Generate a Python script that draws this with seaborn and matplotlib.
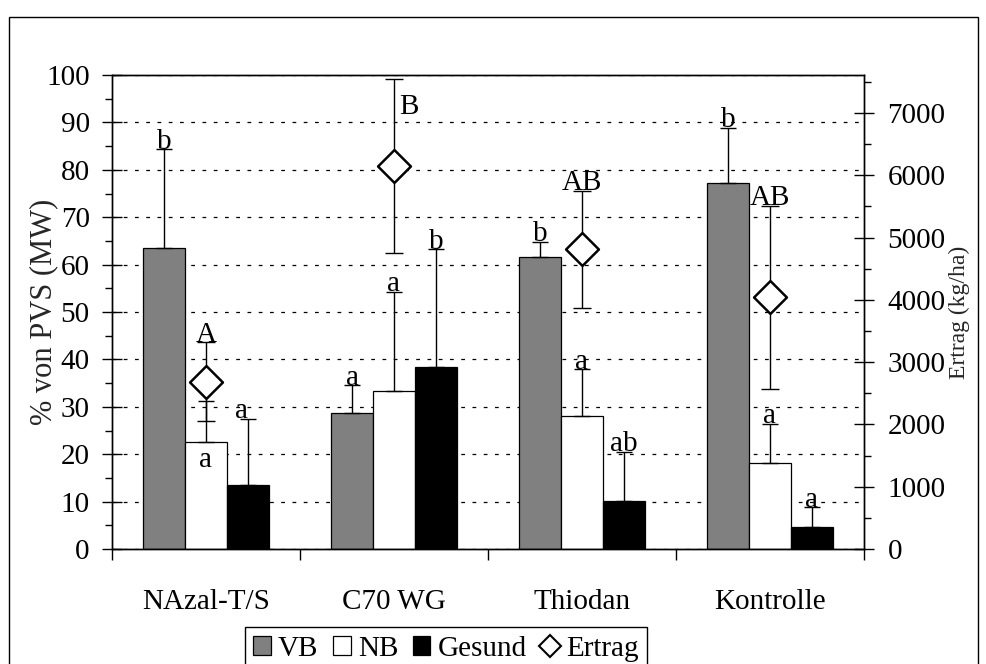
import numpy as np
import pandas as pd
import matplotlib
matplotlib.use("Agg")
import matplotlib.pyplot as plt
from matplotlib.patches import Patch, Rectangle
from matplotlib.lines import Line2D
from matplotlib.ticker import MultipleLocator, FixedLocator
import seaborn as sns

# ---------------- data ----------------
categories = ["NAzal-T/S", "C70 WG", "Thiodan", "Kontrolle"]
vb = [63.6, 28.6, 61.5, 77.2]
vb_err = [20.7, 5.9, 3.3, 11.7]
nb = [22.6, 33.3, 28.1, 18.1]
nb_err = [8.6, 21.0, 9.8, 8.3]
gesund = [13.4, 38.3, 10.1, 4.6]
gesund_err = [14.0, 24.9, 10.4, 4.2]
ertrag = [2686, 6152, 4810, 4040]
ertrag_err = [630, 1396, 945, 1473]

vb_letters = ["b", "a", "b", "b"]
nb_letters = ["a", "a", "a", "a"]
gesund_letters = ["a", "b", "ab", "a"]
ertrag_letters = ["A", "B", "AB", "AB"]

series_names = ["VB", "NB", "Gesund"]
colors = {"VB": "#808080", "NB": "#ffffff", "Gesund": "#000000"}

# ---------------- style ----------------
sns.set_style("ticks")
plt.rcParams["font.family"] = ["Liberation Serif", "DejaVu Serif"]
plt.rcParams["text.color"] = "black"
plt.rcParams["axes.edgecolor"] = "black"
plt.rcParams["xtick.color"] = "black"
plt.rcParams["ytick.color"] = "black"

FS = 21

fig = plt.figure(figsize=(9.87, 6.64), dpi=100)
W, H = 987.0, 664.0
ax = fig.add_axes([112 / W, (H - 549) / H, 752 / W, 474 / H])

df = pd.DataFrame({
    "Behandlung": categories * 3,
    "Gruppe": ["VB"] * 4 + ["NB"] * 4 + ["Gesund"] * 4,
    "Wert": vb + nb + gesund,
})

sns.barplot(data=df, x="Behandlung", y="Wert", hue="Gruppe",
            hue_order=series_names, order=categories,
            palette=colors, edgecolor="black", linewidth=0.9,
            width=0.67, errorbar=None, legend=False, ax=ax, zorder=2)

ax.set_xlim(-0.5, 3.5)
ax.set_ylim(0, 100)
ax.set_axisbelow(True)

# bar error bars (upward only)
vals = {"VB": vb, "NB": nb, "Gesund": gesund}
errs = {"VB": vb_err, "NB": nb_err, "Gesund": gesund_err}
letters = {"VB": vb_letters, "NB": nb_letters, "Gesund": gesund_letters}
centers = {}
for name, cont in zip(series_names, ax.containers):
    xs = np.array([p.get_x() + p.get_width() / 2 for p in cont.patches])
    centers[name] = xs
    v = np.array(vals[name])
    e = np.array(errs[name])
    ax.errorbar(xs, v, yerr=[np.zeros_like(e), e], fmt="none", ecolor="black",
                elinewidth=1.0, capsize=5.5, capthick=1.0, zorder=3)

# bar significance letters
for name in series_names:
    for i, lab in enumerate(letters[name]):
        x = centers[name][i]
        top = vals[name][i] + errs[name][i]
        if name == "NB" and i == 0:
            ax.annotate(lab, (x, vals[name][i]), xytext=(0, -4),
                        textcoords="offset points", ha="center", va="top",
                        fontsize=FS, zorder=5)
        else:
            dx = -5 if (name == "Gesund" and i == 0) else 0
            ax.annotate(lab, (x, top), xytext=(dx, 0.5),
                        textcoords="offset points", ha="center", va="baseline",
                        fontsize=FS, zorder=5)

# grid
ax.yaxis.grid(True, linestyle=(0, (3, 6)), color="black", linewidth=0.9)
ax.yaxis.set_major_locator(MultipleLocator(10))
ax.yaxis.set_minor_locator(MultipleLocator(5))
ax.tick_params(axis="y", which="major", direction="inout", length=14, width=1,
               labelsize=FS, pad=9)
ax.tick_params(axis="y", which="minor", direction="out", length=5, width=1)

# x axis: ticks at boundaries, labels at centers
ax.xaxis.set_major_locator(FixedLocator([-0.5, 0.5, 1.5, 2.5, 3.5]))
ax.xaxis.set_minor_locator(FixedLocator([0, 1, 2, 3]))
ax.set_xticklabels([], minor=False)
ax.set_xticklabels(categories, minor=True)
ax.tick_params(axis="x", which="major", direction="out", length=8, width=1)
ax.tick_params(axis="x", which="minor", length=0, labelsize=FS, pad=29)
ax.set_xlabel("")
ax.set_ylabel("% von PVS (MW)", fontsize=22, labelpad=-9)

for s in ["left", "bottom", "top", "right"]:
    ax.spines[s].set_visible(True)
    ax.spines[s].set_color("black")
    ax.spines[s].set_linewidth(1.0)

# twin axis for Ertrag
ax2 = ax.twinx()
ax2.set_ylim(0, 7610)
ertrag_x = centers["NB"]
ax2.errorbar(ertrag_x, ertrag, yerr=ertrag_err, fmt="none", ecolor="black",
             elinewidth=1.0, capsize=6.5, capthick=1.0, zorder=3)
sns.scatterplot(x=ertrag_x, y=ertrag, marker="D", s=280, color="white",
                edgecolor="black", linewidth=1.8, ax=ax2, zorder=4, legend=False)
for i, lab in enumerate(ertrag_letters):
    x = ertrag_x[i]
    top = ertrag[i] + ertrag_err[i]
    if i == 1:
        ax2.annotate(lab, (x, top), xytext=(4, -20), textcoords="offset points",
                     ha="left", va="center", fontsize=FS, zorder=5)
    else:
        ax2.annotate(lab, (x, top), xytext=(0, 0.5), textcoords="offset points",
                     ha="center", va="baseline", fontsize=FS, zorder=5)

ax2.yaxis.set_major_locator(MultipleLocator(1000))
ax2.yaxis.set_minor_locator(MultipleLocator(500))
ax2.tick_params(axis="y", which="major", direction="inout", length=14, width=1,
                labelsize=FS, pad=10)
ax2.tick_params(axis="y", which="minor", direction="out", length=5, width=1)
ax2.set_ylabel("Ertrag (kg/ha)", fontsize=17, labelpad=2)
for s in ["left", "bottom", "top", "right"]:
    ax2.spines[s].set_color("black")
    ax2.spines[s].set_linewidth(1.0)

# legend
handles = [
    Patch(facecolor=colors["VB"], edgecolor="black", linewidth=0.9),
    Patch(facecolor=colors["NB"], edgecolor="black", linewidth=0.9),
    Patch(facecolor=colors["Gesund"], edgecolor="black", linewidth=0.9),
    Line2D([], [], marker="D", linestyle="none", markersize=11,
           markerfacecolor="white", markeredgecolor="black", markeredgewidth=1.5),
]
leg = fig.legend(handles, ["VB", "NB", "Gesund", "Ertrag"], loc="upper center",
                 bbox_to_anchor=(446 / W, 1 - 627 / H), ncol=4, frameon=True,
                 fancybox=False, edgecolor="black", framealpha=1, fontsize=FS,
                 handlelength=0.6, handleheight=0.6, handletextpad=0.25,
                 columnspacing=0.5, borderpad=0.3, borderaxespad=0)
leg.get_frame().set_linewidth(1.0)

# outer chart frame
fig.add_artist(Rectangle((9 / W, -0.01), (978 - 9) / W, 0.01 + (H - 17) / H,
                         transform=fig.transFigure, fill=False,
                         edgecolor="black", linewidth=1.0))

fig.savefig("out.png", dpi=100)
